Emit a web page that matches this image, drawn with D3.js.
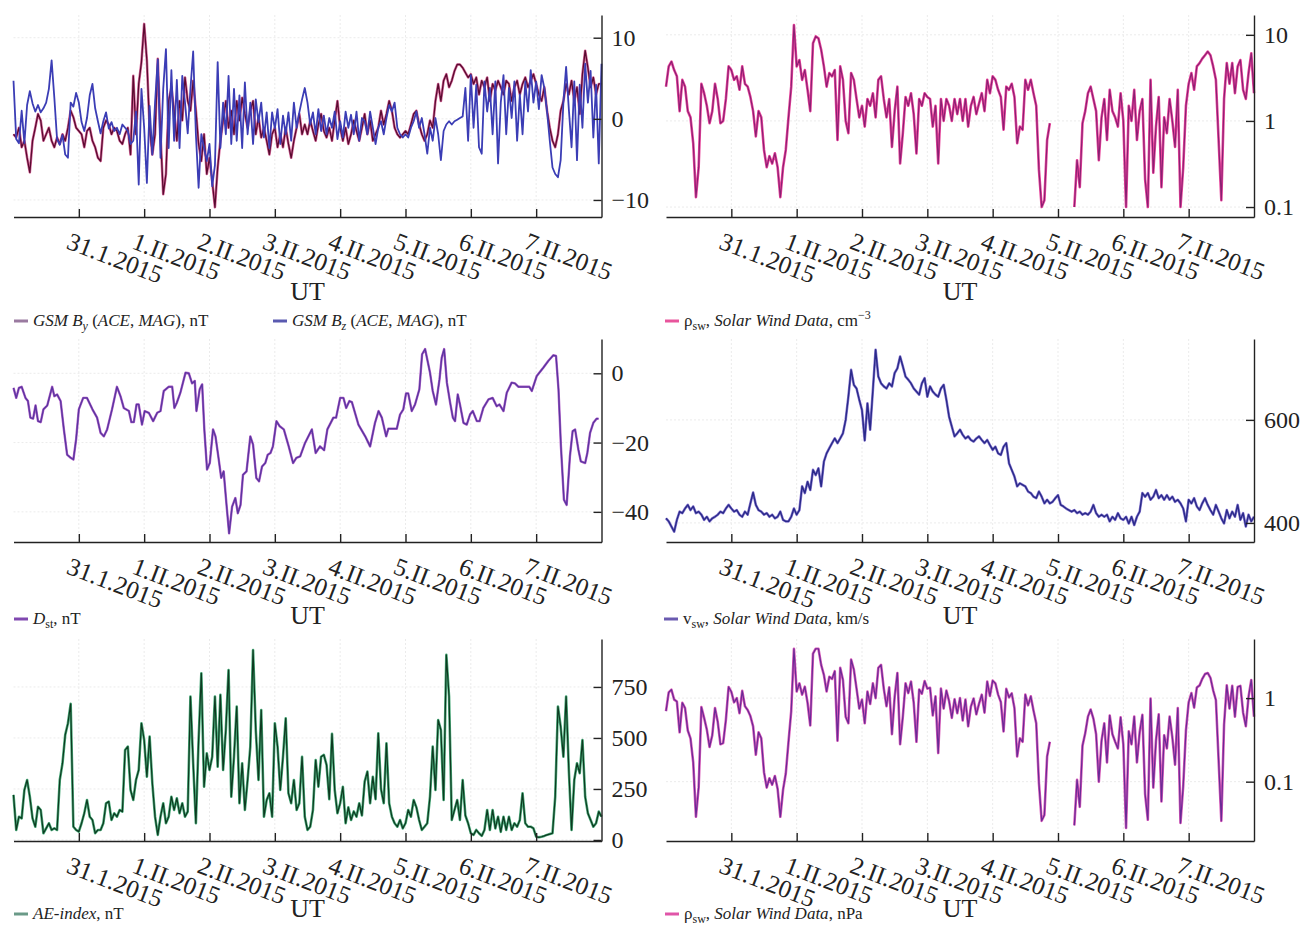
<!DOCTYPE html>
<html>
<head>
<meta charset="utf-8">
<title>Solar wind and geomagnetic indices, 30.I - 8.II.2015</title>
<script src="https://cdn.jsdelivr.net/npm/d3@7/dist/d3.min.js"></script>
<style>
  body { margin: 0; background: #fff; }
  text { font-family: "Liberation Serif", "Times New Roman", serif; fill: #222; }
</style>
</head>
<body>
<svg id="chart" width="1304" height="926"></svg>
<script>
// time range: 30.I.2015 00 UT .. 8.II.2015 00 UT, hourly values
var t0 = Date.UTC(2015, 0, 30), t1 = Date.UTC(2015, 1, 8)
var dayTicks = d3.range(1, 9).map(d => new Date(t0 + d * 864e5))
var dayLabels = ["31.1.2015", "1.II.2015", "2.II.2015", "3.II.2015", "4.II.2015", "5.II.2015", "6.II.2015", "7.II.2015"]

// GSM By, nT (hourly)
var byVals = [
  -1.9,-2.3,-1.1,-3.5,-2.7,-4.8,-6.6,-2.7,-1.1,0.6,-0.2,-2.7,-1.9,-1.1,-2.7,-3.5,-2.3,-3.1,-1.9,-2.7,-1.1,1.0,0.2,-1.1,
  -1.5,-1.9,-3.5,-1.5,-1.1,-2.7,-3.5,-4.8,-5.2,-1.1,-0.2,-0.7,-1.9,-1.1,-1.5,-2.7,-3.1,-1.9,-1.1,-4.4,5.3,-1.9,4.3,7.0,
  11.7,7.2,-1.1,-4.4,-1.9,7.4,-1.9,-9.3,-6.8,2.2,3.9,1.0,-2.7,2.2,-0.2,5.1,2.2,1.0,4.7,1.0,-3.1,-5.2,-1.9,-6.8,
  -4.8,-7.7,-10.9,-6.0,-2.7,-0.2,2.2,-1.1,1.0,-1.9,2.2,-0.2,2.6,0.6,-1.1,1.0,2.2,-1.9,0.2,-2.3,-1.1,-2.7,-4.4,-1.9,
  -1.1,-3.5,-1.9,-3.5,-1.1,-3.1,-4.8,-2.7,-1.1,0.6,-1.9,-0.7,-1.9,-0.2,-1.5,-2.7,-0.7,0.6,-1.5,-2.3,-1.1,-2.7,-0.2,2.2,
  -1.1,-2.7,-1.1,-3.1,-1.9,-0.2,-1.5,-2.7,-1.1,0.6,-1.9,-0.2,-2.7,-1.9,-1.1,1.0,-0.7,0.6,2.2,1.0,-1.1,-1.9,-2.3,-1.9,
  -1.5,-1.9,-0.7,0.6,1.0,-0.7,-1.9,-2.7,-1.9,-0.2,-1.1,2.2,4.3,2.2,4.7,5.5,3.9,4.7,5.9,6.7,6.7,6.3,5.7,5.1,
  5.5,4.3,5.1,3.0,4.7,3.9,5.1,2.2,4.3,3.5,4.7,3.9,3.0,4.7,4.3,2.2,3.9,4.7,3.0,4.3,5.1,3.9,4.7,5.5,
  4.3,3.0,2.2,3.9,1.0,-1.1,-2.7,-3.5,-1.9,1.0,2.2,4.3,3.0,4.7,2.2,3.9,0.6,5.5,8.4,6.3,3.9,5.1,3.0,4.3,
  4.3
]
// GSM Bz, nT (hourly)
var bzVals = [
  4.7,-2.5,-3.0,1.0,-3.0,1.7,3.4,1.9,0.9,1.7,0.8,1.3,2.0,3.7,7.2,2.6,-2.5,-3.2,-2.0,-4.4,-4.8,2.0,1.5,3.2,
  2.0,-0.4,-1.5,0.1,2.9,4.3,1.3,-0.3,-1.8,-0.3,0.8,-1.2,-0.4,-1.5,-1.1,-1.9,-0.7,-1.1,-1.5,-3.1,-2.7,0.9,-8.1,3.7,
  -1.1,-7.9,1.6,-4.4,2.0,7.3,-4.8,3.7,8.6,-3.6,6.0,-2.7,4.8,-3.6,5.3,2.0,-1.8,3.7,8.3,-1.9,-8.5,-1.9,-3.6,-5.2,
  -3.1,-8.3,-5.7,7.0,-3.6,2.0,-1.9,5.3,-3.1,3.7,-2.7,2.9,-3.6,4.5,-1.9,2.0,-3.1,2.4,-0.4,2.0,-2.3,0.8,-3.6,0.8,
  -1.2,1.2,-3.1,0.4,-1.9,0.8,-2.7,2.0,-1.1,0.8,2.4,3.8,2.0,-0.7,0.8,-1.9,1.2,-1.5,0.4,-1.9,0.1,-1.1,0.9,-2.5,
  -0.3,-2.3,0.9,-1.1,0.5,-1.9,0.9,-2.7,0.1,-0.3,-1.9,0.9,-1.1,-3.1,-1.1,-0.3,-1.9,0.1,1.7,0.9,2.0,-1.1,-1.9,-2.3,
  -1.9,-2.3,-1.1,-0.3,0.9,-1.1,0.1,-1.9,-4.3,-1.1,-2.7,0.1,-1.9,-5.1,-1.5,-0.7,-0.3,-0.7,-0.3,-0.1,0.1,0.3,3.8,-2.7,
  5.4,-1.1,4.2,-3.5,-4.3,4.6,0.9,3.8,-1.9,4.6,-5.5,2.0,5.4,-1.9,3.8,0.1,4.6,-2.7,3.0,-1.9,4.6,0.9,6.0,2.0,
  4.6,1.2,5.4,3.8,0.9,-2.7,-6.0,-6.8,-7.2,-5.1,2.0,6.4,1.2,-3.5,4.6,-5.1,4.2,-1.1,6.8,2.0,5.9,-2.3,4.2,-5.5,
  6.8
]
// solar wind density, cm^-3 (hourly, null = data gap)
var densVals = [
  2.5,4.3,4.9,3.9,3.3,1.3,3.0,2.5,1.3,1.1,0.55,0.13,0.29,2.7,2.1,1.5,0.94,1.3,2.7,1.8,0.94,1.0,1.8,4.3,
  3.9,3.0,3.3,2.3,4.3,2.7,2.5,1.9,1.3,0.66,1.3,1.1,0.46,0.29,0.39,0.32,0.42,0.29,0.13,0.29,0.46,1.1,2.5,13,
  4.3,5.1,3.0,3.9,2.3,1.3,8.0,9.6,9.1,6.7,4.3,2.5,3.6,3.3,3.9,0.6,4.3,3.0,1.0,0.72,3.6,3.0,1.8,1.1,
  1.5,0.86,1.8,1.5,2.1,1.1,3.0,3.3,1.8,1.1,1.8,0.5,1.3,2.5,0.32,0.72,1.9,1.5,2.1,1.2,0.42,1.8,1.5,2.1,
  1.9,1.8,0.86,1.5,0.32,1.8,1.0,1.8,1.5,1.0,1.8,1.2,1.8,1.0,1.8,0.86,1.5,1.9,1.2,1.6,2.1,1.3,3.0,2.1,
  3.3,3.0,2.3,1.9,0.79,2.5,2.3,2.7,1.9,0.55,0.86,0.79,3.0,2.3,3.0,2.1,1.5,0.27,0.1,0.12,0.6,0.94,null,null,
  null,null,null,null,null,null,0.1,0.35,0.17,0.94,1.3,2.1,2.5,1.8,1.3,0.35,1.1,1.8,0.6,2.3,1.3,1.1,0.86,2.1,
  1.0,0.1,1.5,1.0,2.3,0.6,1.3,1.8,0.21,0.1,3.0,0.25,0.86,1.9,0.17,1.1,0.72,1.8,1.0,0.5,2.3,0.1,0.29,1.5,
  2.7,3.6,2.3,4.3,4.7,5.3,5.8,6.4,5.8,4.3,3.0,0.6,0.12,1.8,4.7,2.7,4.7,2.1,4.3,5.1,2.3,1.8,3.6,6.1,
  2.1
]
// Dst, nT: [hour from 30.I 00 UT, value]
var dstPoints = [
  [0,-4.2],[1,-7.1],[2,-4.2],[3,-3.9],[4.4,-7.1],[5.3,-8],[6.2,-12.8],[7.2,-13.1],[8.1,-9.3],[9,-13.8],[10,-14.1],[11,-10.4],
  [12.4,-9.3],[14.2,-3.9],[15,-6.6],[16,-6.1],[17.3,-8],[18.5,-16.2],[19.7,-23.5],[21,-24.4],[22,-24.9],[23,-19.1],[24,-10.4],
  [25.6,-7.1],[27,-7.1],[29,-10.4],[30.7,-12.8],[32,-17.2],[33.2,-18.2],[34.4,-16.2],[36.2,-10.4],[38,-3.9],[39.3,-6.6],
  [40.5,-10],[42.4,-10.9],[43.3,-14.1],[44.2,-14.1],[45.2,-9],[46,-9],[47.2,-14.8],[48.2,-10.9],[49.7,-11.4],[51.3,-13.8],
  [52.8,-11.4],[54,-10.9],[55.2,-5.1],[57,-3.9],[58.3,-3.9],[59.1,-10],[60,-8.5],[61.3,-5.6],[63.2,0.2],[64.4,0],[65.6,-2.9],
  [66.6,-2.2],[67.2,-10.9],[68.4,-4.6],[69.3,-3.2],[70.1,-16.2],[71.1,-27.8],[72.1,-25.9],[73.3,-16.2],[74.2,-18.2],
  [75.4,-24.9],[76.3,-30.2],[77.2,-28.3],[78.2,-37.5],[79.2,-46.2],[80.3,-38.5],[81.5,-36],[82.4,-40.4],[83.4,-38],
  [84.3,-29.3],[85.6,-28.3],[87,-18.2],[88,-20.6],[89.2,-30.2],[90.2,-31.2],[91.3,-26.9],[92.5,-25.9],[93.4,-23.5],
  [94.4,-23],[95.3,-21.1],[96.6,-13.8],[97.8,-15.3],[99.3,-16.2],[101.1,-21.1],[102.7,-25.9],[103.9,-24.4],[105.3,-24],
  [107.1,-20.1],[109.6,-16.2],[111,-23],[112.6,-21.1],[114.1,-22.2],[115.3,-16.2],[117.5,-12.8],[118.5,-12.8],[120,-7.1],
  [121.2,-7.1],[122.2,-10],[123.4,-8],[124.3,-8.3],[126.7,-14.8],[129.2,-18.2],[131,-21.1],[132.8,-14.3],[134.1,-10.9],
  [135.3,-12.8],[136.9,-18.2],[137.7,-16],[140.8,-16],[142,-11.9],[143.2,-10.4],[144.2,-5.8],[145,-5.8],[146.3,-10.9],
  [147.5,-9],[149.1,-4.6],[150.1,5.5],[151.2,7],[153,0.2],[154,-5.1],[155.2,-9],[156.5,-1.7],[157.3,4.5],[158.2,7],
  [159.2,-2.7],[160.4,-8.5],[161.4,-12.8],[162.2,-13.8],[163.2,-6.1],[164,-9],[165.3,-14.3],[166.5,-14.8],[167.7,-11.9],
  [168.7,-10.9],[170.2,-13.8],[171.2,-13.8],[172.6,-10],[174.5,-7.5],[176,-7.1],[177.5,-9.5],[178.5,-9],[180,-10.9],
  [181.2,-5.6],[183,-2.7],[184.2,-2.9],[185.5,-3.9],[187.3,-3.9],[189.5,-3.9],[190.4,-5.1],[192.2,-0.8],[194.6,1.6],
  [196.5,3.6],[198.3,5.2],[199.3,5],[200.2,-4.6],[201.1,-21.1],[202.2,-36.5],[203.2,-38],[204.4,-24],[205.4,-16.7],
  [206.3,-16.2],[207.5,-22],[208.4,-25.4],[210,-25.9],[210.8,-23],[211.8,-17.2],[213,-14.3],[214.2,-13.1],[214.9,-13.1]
]
// solar wind speed, km/s (hourly)
var vswVals = [
  409,403,393,383,406,422,419,428,435,425,432,419,422,416,406,412,403,409,412,416,422,419,428,435,
  428,422,425,416,412,422,416,438,459,435,425,422,416,419,412,416,409,412,422,406,403,403,412,428,
  416,425,471,458,480,464,503,493,506,471,519,535,545,555,564,555,564,574,600,645,697,668,661,639,
  619,560,632,581,658,736,684,671,665,661,671,665,691,700,723,704,684,678,671,661,655,649,671,681,
  645,665,655,649,645,661,668,639,606,587,568,574,581,571,564,568,561,558,564,568,561,555,561,551,
  542,548,535,532,548,555,516,503,490,471,477,474,471,461,458,451,448,461,451,438,445,438,441,448,
  454,435,432,428,425,422,425,419,422,416,419,416,422,435,419,412,416,412,416,403,412,406,419,409,
  406,412,399,412,396,412,422,458,451,458,445,451,464,448,454,445,454,445,451,441,445,438,428,403,
  445,438,448,432,425,438,448,435,425,416,435,422,409,399,425,409,422,412,435,406,419,393,416,403,
  412
]
// AE index, nT (hourly)
var aeVals = [
  221,49,114,106,245,294,212,106,65,163,147,33,57,82,49,57,49,294,376,515,572,667,65,49,
  41,82,131,196,114,98,33,49,49,82,180,188,98,131,114,147,139,441,458,245,196,294,343,572,
  490,310,507,278,114,25,114,180,82,114,212,147,204,131,180,114,139,703,376,82,490,817,261,425,
  343,408,703,359,711,343,539,833,212,408,654,180,376,147,294,458,931,539,294,637,114,196,229,114,
  572,458,245,408,596,229,180,294,147,180,408,114,49,65,147,392,261,408,417,368,200,520,245,131,
  180,261,82,160,98,140,114,180,120,286,335,180,310,200,523,250,180,474,180,114,82,65,98,57,
  82,147,114,196,160,98,49,65,82,212,458,245,588,539,196,907,703,98,147,196,98,294,120,82,
  33,25,49,33,20,49,147,49,147,57,114,40,114,49,114,49,82,65,98,229,82,65,65,57,
  16,13,16,20,25,29,33,212,654,556,408,703,343,49,294,376,327,490,212,131,98,65,82,139,
  114
]
// solar wind dynamic pressure, nPa (hourly, null = data gap)
var presVals = [
  0.70,1.17,1.26,0.96,0.91,0.39,0.88,0.76,0.41,0.33,0.17,0.038,0.086,0.78,0.58,0.42,0.26,0.36,0.76,0.52,0.28,0.29,0.55,1.36,
  1.19,0.89,1.0,0.66,1.22,0.8,0.72,0.61,0.46,0.21,0.39,0.33,0.13,0.085,0.11,0.092,0.117,0.082,0.038,0.08,0.125,0.30,0.7,3.9,
  1.2,1.5,1.1,1.37,0.88,0.47,3.4,3.9,3.9,2.5,1.9,1.2,1.8,1.7,2.1,0.31,2.3,1.65,0.6,0.5,2.9,2.2,1.3,0.75,
  0.96,0.5,1.2,0.85,1.5,1.0,2.3,2.5,1.3,0.8,1.35,0.37,1.04,2.0,0.28,0.6,1.5,1.15,1.58,0.88,0.3,1.27,1.13,1.6,
  1.3,1.33,0.62,1.05,0.22,1.3,0.75,1.23,0.92,0.58,0.97,0.66,1.0,0.54,0.96,0.46,0.79,0.99,0.64,0.86,1.1,0.67,1.58,1.06,
  1.62,1.5,1.1,0.9,0.4,1.29,1.02,1.14,0.76,0.2,0.33,0.3,1.1,0.82,1.05,0.71,0.5,0.096,0.034,0.04,0.2,0.3,null,null,
  null,null,null,null,null,null,0.03,0.105,0.05,0.27,0.38,0.6,0.73,0.57,0.37,0.1,0.31,0.5,0.17,0.62,0.37,0.3,0.25,0.59,
  0.28,0.028,0.4,0.28,0.6,0.17,0.39,0.63,0.071,0.035,0.99,0.085,0.31,0.64,0.058,0.36,0.25,0.6,0.34,0.16,0.76,0.032,0.089,0.41,
  0.89,1.15,0.77,1.34,1.42,1.7,1.94,2.0,1.75,1.24,0.95,0.18,0.034,0.48,1.42,0.75,1.4,0.6,1.36,1.4,0.67,0.46,1.04,1.65,
  0.6
]

var svg = d3.select("#chart")
var hourly = vals => vals.map((v, i) => ({t: new Date(t0 + i * 36e5), v: v}))
var pairs = pts => pts.map(p => ({t: new Date(t0 + p[0] * 36e5), v: p[1]}))

var cols = [{x0: 13.5, x1: 601.5}, {x0: 666, x1: 1254}]
var rows = [{top: 15, bottom: 217}, {top: 339, bottom: 542}, {top: 639, bottom: 841}]

function drawPanel(p) {
  var c = cols[p.col], r = rows[p.row]
  var x = d3.scaleUtc().domain([t0, t1]).range([c.x0, c.x1])
  var y = (p.log ? d3.scaleLog() : d3.scaleLinear()).domain(p.domain).range([r.bottom, r.top])
  var g = svg.append("g")

  // faint grid
  g.selectAll(".vg").data(dayTicks).join("line")
    .attr("x1", d => x(d)).attr("x2", d => x(d)).attr("y1", r.top).attr("y2", r.bottom)
    .attr("stroke", "#ebebeb").attr("stroke-dasharray", "2,2")
  g.selectAll(".hg").data(p.ticks).join("line")
    .attr("x1", c.x0).attr("x2", c.x1).attr("y1", d => y(d)).attr("y2", d => y(d))
    .attr("stroke", "#ebebeb").attr("stroke-dasharray", "2,2")

  p.series.forEach(s => {
    var line = d3.line().defined(d => d.v != null).x(d => x(d.t)).y(d => y(d.v))
    if (s.glow) g.append("path").datum(s.data).attr("d", line).attr("fill", "none")
      .attr("stroke", s.glow).attr("stroke-width", s.gw).attr("stroke-linejoin", "round")
    g.append("path").datum(s.data).attr("d", line).attr("fill", "none")
      .attr("stroke", s.color).attr("stroke-width", s.w).attr("stroke-linejoin", "round")
  })

  var xa = g.append("g").attr("transform", "translate(0," + r.bottom + ")")
    .call(d3.axisBottom(x).tickValues(dayTicks).tickSizeInner(-8).tickSizeOuter(0)
      .tickFormat((d, i) => dayLabels[i]))
  xa.selectAll("text").attr("y", null).attr("dy", null).attr("text-anchor", "start")
    .attr("transform", "translate(-14,31) rotate(21)")
  var ya = g.append("g").attr("transform", "translate(" + c.x1 + ",0)")
    .call(d3.axisRight(y).tickValues(p.ticks).tickSizeInner(-8).tickSizeOuter(0).tickPadding(10)
      .tickFormat((d, i) => p.tickLabels[i]))
  ;[xa, ya].forEach(a => {
    a.attr("font-family", null).attr("font-size", null).attr("color", "#222")
    a.selectAll("path, line").attr("stroke-width", 1.4)
  })
  xa.selectAll("text").style("font-size", "25px")
  ya.selectAll("text").style("font-size", "24px")

  svg.append("text").attr("x", (c.x0 + c.x1) / 2).attr("y", r.bottom + p.utDy)
    .attr("text-anchor", "middle").style("font-size", "26px").text("UT")
  p.legend.forEach(l => legend(l.x, r.bottom + p.legDy, l.color, l.parts))
}

function legend(x, y, color, parts) {
  svg.append("line").attr("x1", x).attr("x2", x + 14).attr("y1", y - 5).attr("y2", y - 5)
    .attr("stroke", color).attr("stroke-width", 3)
  var t = svg.append("text").attr("x", x + 19).attr("y", y).style("font-size", "17px")
  var shift = 0
  parts.forEach(pt => {
    var want = pt[1].includes("sub") ? 4 : pt[1].includes("sup") ? -7 : 0
    var s = t.append("tspan").attr("dy", want - shift).text(pt[0])
    shift = want
    if (pt[1].includes("i")) s.style("font-style", "italic")
    if (want != 0) s.style("font-size", "12px")
  })
}

var swData = [["\u03c1", ""], ["sw", "sub"], [", ", ""], ["Solar Wind Data", "i"]]

drawPanel({
  col: 0, row: 0, domain: [-12.1, 12.8], ticks: [-10, 0, 10], tickLabels: ["\u221210", "0", "10"],
  utDy: 83, legDy: 109,
  series: [
    {data: hourly(byVals), color: "#5a0b30", w: 1.3, glow: "#d76a9c", gw: 2.6},
    {data: hourly(bzVals), color: "#3b3db5", w: 1.8}
  ],
  legend: [
    {x: 14, color: "#9a7aa0", parts: [["GSM B", "i"], ["y", "i sub"], [" (", ""], ["ACE", "i"], [", ", ""], ["MAG", "i"], ["), nT", ""]]},
    {x: 273, color: "#5a5ab0", parts: [["GSM B", "i"], ["z", "i sub"], [" (", ""], ["ACE", "i"], [", ", ""], ["MAG", "i"], ["), nT", ""]]}
  ]
})
drawPanel({
  col: 1, row: 0, log: true, domain: [0.0766, 17], ticks: [0.1, 1, 10], tickLabels: ["0.1", "1", "10"],
  utDy: 83, legDy: 109,
  series: [{data: hourly(densVals), color: "#8a1f72", w: 1.1, glow: "#e8449b", gw: 2.6}],
  legend: [{x: 665, color: "#e8559c", parts: swData.concat([[", cm", ""], ["\u22123", "sup"]])}]
})
drawPanel({
  col: 0, row: 1, domain: [-48.7, 9.9], ticks: [-40, -20, 0], tickLabels: ["\u221240", "\u221220", "0"],
  utDy: 82, legDy: 82,
  series: [{data: pairs(dstPoints), color: "#5a35a0", w: 1.3, glow: "#b061c8", gw: 2.4}],
  legend: [{x: 14, color: "#8048b0", parts: [["D", "i"], ["st", "sub"], [", nT", ""]]}]
})
drawPanel({
  col: 1, row: 1, domain: [363, 757], ticks: [400, 600], tickLabels: ["400", "600"],
  utDy: 82, legDy: 82,
  series: [{data: hourly(vswVals), color: "#2a2a8a", w: 1.4, glow: "#8a7ad0", gw: 2.6}],
  legend: [{x: 664, color: "#6a5ab0", parts: [["v", ""], ["sw", "sub"], [", ", ""], ["Solar Wind Data", "i"], [", km/s", ""]]}]
})
drawPanel({
  col: 0, row: 2, domain: [-5, 985], ticks: [0, 250, 500, 750], tickLabels: ["0", "250", "500", "750"],
  utDy: 76, legDy: 78,
  series: [{data: hourly(aeVals), color: "#0d3a20", w: 1.2, glow: "#4aaa7a", gw: 2.6}],
  legend: [{x: 14, color: "#6a9a88", parts: [["AE-index", "i"], [", nT", ""]]}]
})
drawPanel({
  col: 1, row: 2, log: true, domain: [0.0195, 5.1], ticks: [0.1, 1], tickLabels: ["0.1", "1"],
  utDy: 76, legDy: 78,
  series: [{data: hourly(presVals), color: "#6a2a96", w: 1.2, glow: "#d858b8", gw: 2.6}],
  legend: [{x: 665, color: "#e055a8", parts: swData.concat([[", nPa", ""]])}]
})
</script>
</body>
</html>
